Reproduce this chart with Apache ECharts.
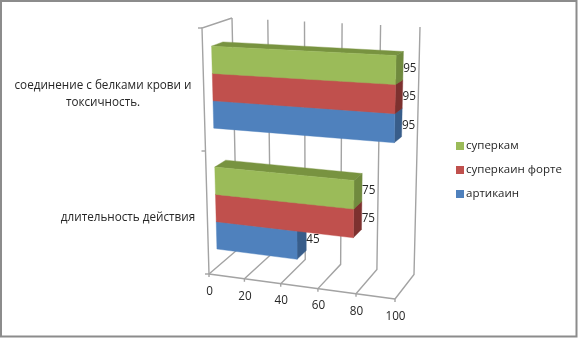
<!DOCTYPE html>
<html><head><meta charset="utf-8">
<style>html,body{margin:0;padding:0;background:#fff}#c{width:578px;height:338px}</style>
<script src="https://cdn.jsdelivr.net/npm/echarts@6/dist/echarts.min.js"></script>
</head><body><div id="c"></div>
<script>
// ---- data ----
const categories = ['длительность действия', 'соединение с белками крови и\nтоксичность.'];
const articaine = [45, 95];
const supercaineForte = [75, 95];
const superkam = [75, 95];
const valueTicks = [0, 20, 40, 60, 80, 100];
const legendOrder = ['суперкам', 'суперкаин форте', 'артикаин'];

// ---- layout of the perspective box ----
const G = {left: 209, width: 186, top: 28, height: 246};
const C = {
  f0b: [209, 274], f1b: [395, 299], b0b: [237, 250], b1b: [414, 274.5],
  f0t: [202, 28], f1t: [401.4, 36.2], b0t: [232, 18], b1t: [420, 27]
};
const lerp = (a, b, t) => [a[0] + (b[0] - a[0]) * t, a[1] + (b[1] - a[1]) * t];
function P(vRaw, h, d) {
  const v = vRaw - 0.06 * vRaw * (1 - vRaw); // foreshortening along the value axis
  const bot = lerp(lerp(C.f0b, C.f1b, v), lerp(C.b0b, C.b1b, v), d);
  const top = lerp(lerp(C.f0t, C.f1t, v), lerp(C.b0t, C.b1t, v), d);
  return lerp(bot, top, h);
}
const normV = x => (x - G.left) / G.width;
const normH = y => (G.top + G.height - y) / G.height;
const D0 = 0.3, D1 = 0.68, BAR = 0.113, SHIFT = -0.007;
const GRID = '#a3a3a3', TEXT = '#262626', FONT = '"Open Sans", sans-serif';

const line = (pts, w) => ({type: 'polyline', shape: {points: pts},
  style: {stroke: GRID, lineWidth: w || 1.4, fill: null}, silent: true});
const txt = (x, y, s, align, size) => ({type: 'text', z2: 50, silent: true,
  style: {x, y, text: s, fill: TEXT, font: (size || 11.7) + 'px ' + FONT, align: align || 'center', verticalAlign: 'middle', lineHeight: 17}});

function barSeries(name, values, slot, cFront, cSide, cTop) {
  return {
    type: 'custom', name, coordinateSystem: 'cartesian2d', itemStyle: {color: cFront},
    data: values.map((v, i) => [v, i]), encode: {x: 0, y: 1}, clip: false,
    renderItem(params, api) {
      const pt = api.coord([api.value(0), api.value(1)]);
      const base = api.coord([0, api.value(1)]);
      const v0 = normV(base[0]), v1 = normV(pt[0]);
      const hc = normH(pt[1]) + SHIFT;
      const h0 = hc + (slot - 1.5) * BAR, h1 = h0 + BAR;
      const poly = (pts, fill) => ({type: 'polygon', shape: {points: pts}, style: {fill, stroke: fill, lineWidth: 0.4}, silent: true});
      const lab = P(v1, (h0 + h1) / 2, D1);
      return {type: 'group', children: [
        poly([P(v0, h1, D0), P(v1, h1, D0), P(v1, h1, D1), P(v0, h1, D1)], cTop),
        poly([P(v1, h0, D0), P(v1, h1, D0), P(v1, h1, D1), P(v1, h0, D1)], cSide),
        poly([P(v0, h0, D0), P(v1, h0, D0), P(v1, h1, D0), P(v0, h1, D0)], cFront),
        txt(lab[0], lab[1] + 3, String(api.value(0)), 'left')
      ]};
    }
  };
}

const wallsSeries = {
  type: 'custom', name: 'walls', silent: true, clip: false, z: 1,
  data: valueTicks.map(v => [v, 0]), encode: {x: 0, y: 1},
  renderItem(params, api) {
    const v = normV(api.coord([api.value(0), 0])[0]);
    const a = P(v, 0, 0), b = P(v, 0, 1), c = P(v, 1, 1);
    const kids = [
      line([a, b, c]),
      line([a, [a[0], a[1] + 3]]),
      txt(a[0] + 0.5, a[1] + 17.5, String(api.value(0)))
    ];
    if (params.dataIndex === 0) {
      const ft = P(0, 1, 0);
      kids.push(line([a, ft, c]));
      kids.push(line([a, P(1, 0, 0)]));
      [0, 0.5, 1].forEach(h => { const p = P(0, h, 0); kids.push(line([[p[0] - 4, p[1]], p])); });
    }
    return {type: 'group', children: kids};
  }
};

const catCenterX = [128, 103];
const catLabels = {
  type: 'custom', name: 'catLabels', silent: true, clip: false, z: 1,
  data: categories.map((c, i) => [0, i]), encode: {x: 0, y: 1},
  renderItem(params, api) {
    const i = api.value(1);
    const p = P(0, normH(api.coord([0, i])[1]), 0);
    return {type: 'group', children: [txt(catCenterX[i], p[1] + 5, categories[i])]};
  }
};

const chart = echarts.init(document.getElementById('c'), null, {renderer: 'canvas'});
chart.setOption({
  animation: false, backgroundColor: '#fff',
  grid: {left: G.left, width: G.width, top: G.top, height: G.height, show: false},
  xAxis: {type: 'value', min: 0, max: 100, interval: 20, show: false},
  yAxis: {type: 'category', data: categories, show: false},
  legend: {
    orient: 'vertical', left: 451, top: 133.5, itemWidth: 8, itemHeight: 8, itemGap: 9,
    icon: 'rect', data: legendOrder, selectedMode: false,
    textStyle: {fontFamily: FONT, fontSize: 11.5, color: TEXT, padding: [0, 0, 0, -3], lineHeight: 15}
  },
  graphic: [{type: 'rect', shape: {x: 1, y: 1, width: 575.5, height: 335.5}, silent: true,
    style: {fill: null, stroke: '#8c8c8c', lineWidth: 2}}],
  series: [
    wallsSeries, catLabels,
    barSeries(legendOrder[2], articaine, 0, '#4F81BD', '#385D8A', '#3F6797'),
    barSeries(legendOrder[1], supercaineForte, 1, '#C0504D', '#7D312F', '#9A403D'),
    barSeries(legendOrder[0], superkam, 2, '#9BBB59', '#708A3E', '#789340')
  ]
});
</script></body></html>
